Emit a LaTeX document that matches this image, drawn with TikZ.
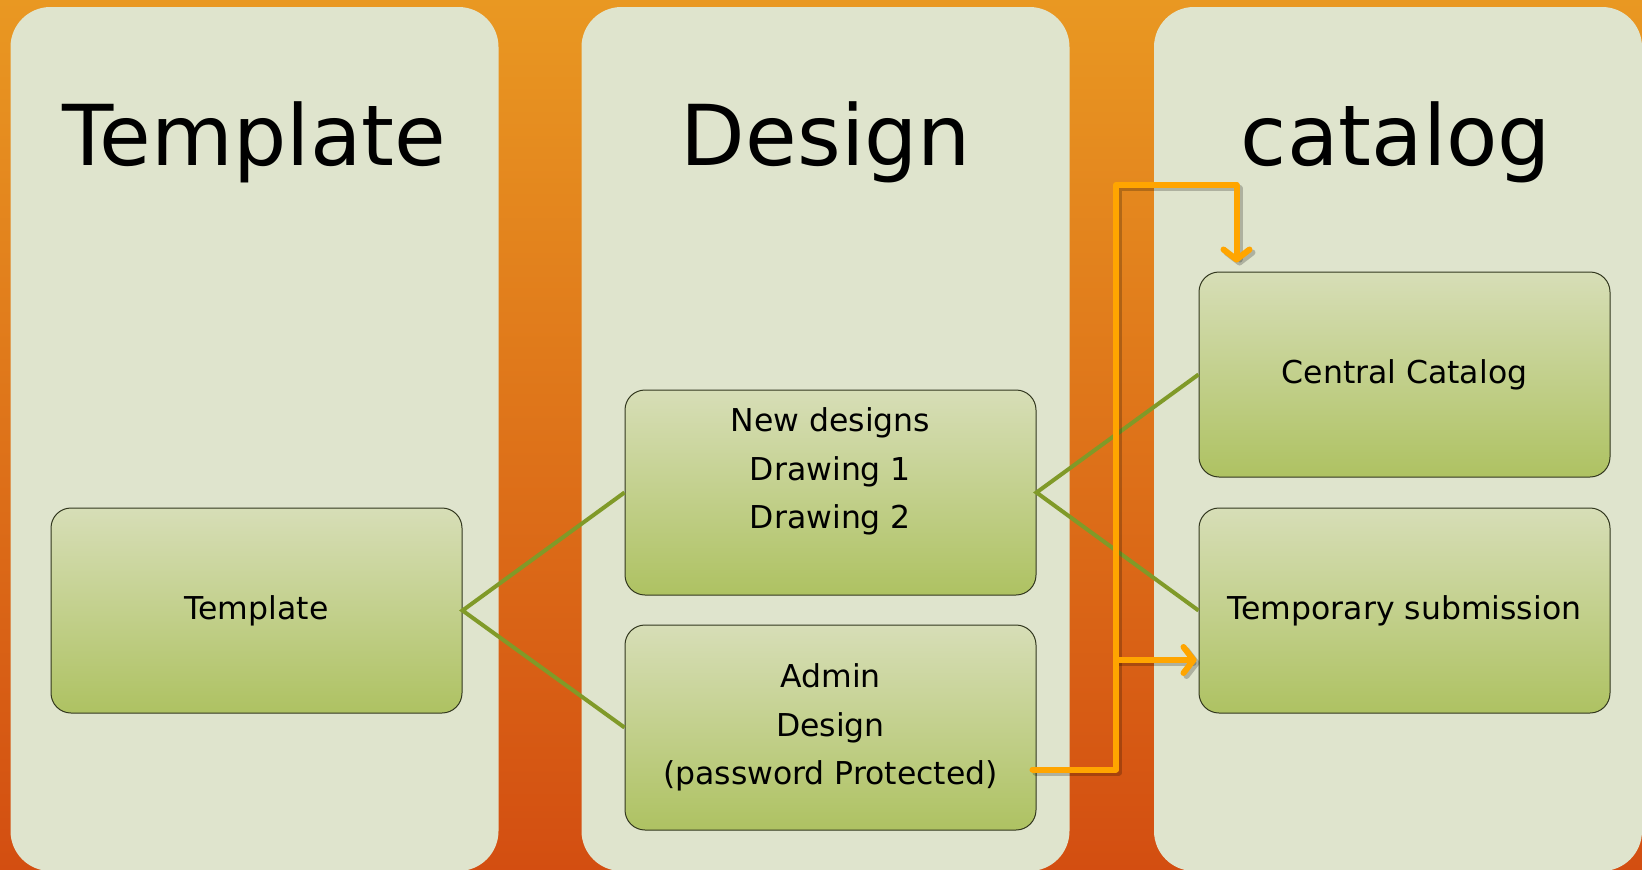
\documentclass[tikz,border=0pt]{standalone}
\usepackage{fontspec}
\setmainfont{DejaVu Sans}
\usetikzlibrary{arrows.meta,calc}
\definecolor{bg-top}{RGB}{233,152,34}
\definecolor{bg-bottom}{RGB}{211,78,17}
\definecolor{lane-fill}{RGB}{223,228,205}
\definecolor{box-top}{RGB}{215,222,183}
\definecolor{box-bottom}{RGB}{174,194,98}
\definecolor{box-line}{RGB}{50,55,30}
\definecolor{link-green}{RGB}{128,154,40}
\definecolor{flow-orange}{RGB}{255,165,0}
\tikzstyle{lane}=[rounded corners=40pt, fill=lane-fill, minimum width=488pt, minimum height=864pt, inner sep=0pt]
\tikzstyle{laneTitle}=[font=\fontsize{84}{90}\selectfont, inner sep=0pt, anchor=base]
\tikzstyle{stepBox}=[rounded corners=20pt, draw=box-line, line width=1pt, top color=box-top, bottom color=box-bottom, minimum width=411pt, minimum height=205pt, inner sep=0pt, align=center, font=\fontsize{31.5}{48.5}\selectfont]
\tikzstyle{link}=[draw=link-green, line width=4pt]
\tikzstyle{flow}=[draw=flow-orange, line width=6pt, line cap=round, line join=round, -{Straight Barb[length=10pt,width=26pt,line width=6pt,round]}]
\tikzstyle{flowShadow}=[flow, draw=black, opacity=.22, transform canvas={shift={(3,3)}}]

\begin{document}
\begin{tikzpicture}[x=1pt, y=-1pt]
	\useasboundingbox (0,0) rectangle (1642,870);
	\shade[top color=bg-top, bottom color=bg-bottom] (0,0) rectangle (1642,870);
	\node[lane] (lane1) at (254.5,439) {};
	\node[lane] (lane2) at (825.5,439) {};
	\node[lane] (lane3) at (1398,439) {};
	\node[laneTitle] (title1) at (254.5,165) {Template};
	\node[laneTitle] (title2) at (826,165) {Design};
	\node[laneTitle] (title3) at (1396,165) {catalog};
	\node[stepBox] (tpl) at (256.5,610.5) {Template};
	\node[stepBox] (newd) at (830.5,492.5) {New designs\\Drawing 1\\Drawing 2\\\mbox{}};
	\node[stepBox] (admin) at (830.5,727.5) {Admin\\Design\\(password Protected)};
	\node[stepBox] (central) at (1404.5,374.5) {Central Catalog};
	\node[stepBox] (temp) at (1404.5,610.5) {Temporary submission};
	\draw[link] (newd.west) -- (tpl.east) -- (admin.west);
	\draw[link] (central.west) -- (newd.east) -- (temp.west);
	\coordinate (aOut) at ($(admin.east)+(-4,42)$);
	\coordinate (bend) at (1116,185);
	\coordinate (cIn) at ($(central.north west)+(38,-9)$);
	\coordinate (split) at (1116,660);
	\coordinate (tIn) at ($(temp.west |- split)+(-2,0)$);
	\draw[flowShadow] (aOut) -| (bend) -| (cIn);
	\draw[flowShadow] (split) -- (tIn);
	\draw[flow] (aOut) -| (bend) -| (cIn);
	\draw[flow] (split) -- (tIn);
\end{tikzpicture}
\end{document}
